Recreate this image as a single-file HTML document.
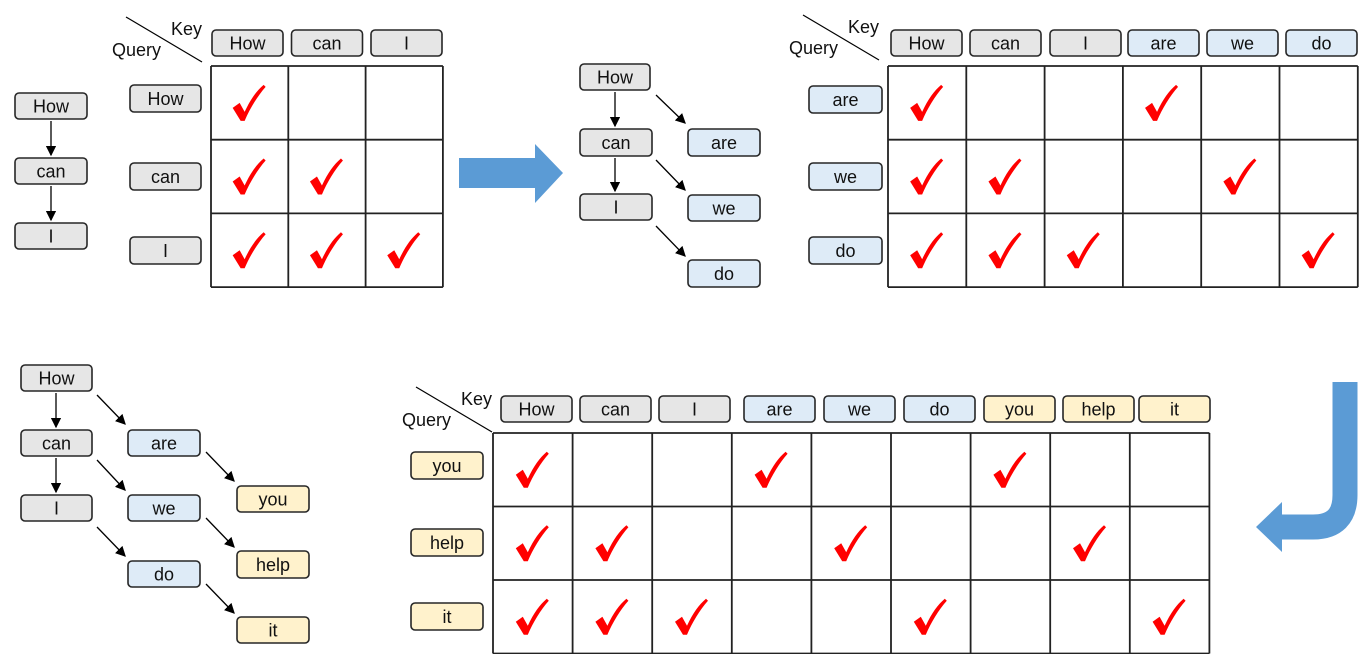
<!DOCTYPE html>
<html><head><meta charset="utf-8"><style>
body{margin:0;background:#fff;width:1365px;height:654px;overflow:hidden}
svg{display:block}
text{font-family:"Liberation Sans",sans-serif}
</style></head><body>
<svg id="s" width="1365" height="654" viewBox="0 0 1365 654">
<defs><marker id="ah" markerWidth="8" markerHeight="8" refX="7" refY="4" orient="auto"><path d="M0,0 L8,4 L0,8 z" fill="#000"/></marker></defs>
<g id="g"></g>
<path d="M459,158 H535 V144 L563,173 L535,203 V188 H459 Z" fill="#5b9bd5"/>
<path d="M1345,382 V495 Q1345,527 1313,527 H1280" fill="none" stroke="#5b9bd5" stroke-width="25"/>
<path d="M1282,502 L1256,527 L1282,552 Z" fill="#5b9bd5"/>
</svg>
<script>
const G=document.getElementById('g');
const NS='http://www.w3.org/2000/svg';
const FILL={g:'#e6e6e6',b:'#deebf7',y:'#fff2cc'};
function el(t,a){const e=document.createElementNS(NS,t);for(const k in a)e.setAttribute(k,a[k]);G.appendChild(e);return e;}
function box(x,y,w,h,txt,c){
  const r=el('rect',{x:x,y:y,width:w,height:h,rx:4,fill:FILL[c],stroke:'#262626','stroke-width':1.6});
  
  
  const t=el('text',{x:x+w/2,y:y+h/2+6.5,'text-anchor':'middle','font-size':18,fill:'#111'});
  t.textContent=txt;
  
  
}
function arrow(x1,y1,x2,y2){
  const l=el('line',{x1:x1,y1:y1,x2:x2,y2:y2,stroke:'#000','stroke-width':1.3,'marker-end':'url(#ah)'});
  
  
}
function check(cx,cy){
  const p=el('path',{d:'M-15,5 L-8,0 L-3,9 C3,-4 9,-12 16,-18 L18,-16 C10,-7 2,6 -3,18 L-7,18 Z',fill:'#ff0000',transform:`translate(${cx},${cy})`});
  
  
}
function header(dx,dy){
  const l=el('line',{x1:dx,y1:dy,x2:dx+76,y2:dy+45,stroke:'#000','stroke-width':1.2});
  
  
  const k=el('text',{x:dx+45,y:dy+18,'font-size':18,fill:'#111'});k.textContent='Key';
  
  
  const q=el('text',{x:dx-14,y:dy+39,'font-size':18,fill:'#111'});q.textContent='Query';
  
  
}
function grid(x0,y0,cw,rh,nc,nr,mask){
  for(let i=0;i<=nc;i++){const l=el('line',{x1:x0+i*cw,y1:y0,x2:x0+i*cw,y2:y0+nr*rh,stroke:'#222','stroke-width':1.8});
    }
  for(let j=0;j<=nr;j++){const l=el('line',{x1:x0,y1:y0+j*rh,x2:x0+nc*cw,y2:y0+j*rh,stroke:'#222','stroke-width':1.8});
    }
  mask.forEach((row,j)=>row.forEach((v,i)=>{if(v)check(x0+i*cw+cw/2-2,y0+j*rh+rh/2);}));
}
const keys1=['How','can','I'];
const mask1=[[1,0,0],[1,1,0],[1,1,1]];
const keys2=['How','can','I','are','we','do'];
const cols2=['g','g','g','b','b','b'];
const queries2=['are','we','do'];
const mask2=[[1,0,0,1,0,0],[1,1,0,0,1,0],[1,1,1,0,0,1]];
const keys3=['How','can','I','are','we','do','you','help','it'];
const cols3=['g','g','g','b','b','b','y','y','y'];
const queries3=['you','help','it'];
const mask3=[[1,0,0,1,0,0,1,0,0],[1,1,0,0,1,0,0,1,0],[1,1,1,0,0,1,0,0,1]];

[93,158,223].forEach((y,i)=>box(15,y,72,26,keys1[i],'g'));
arrow(51,121,51,155);arrow(51,186,51,220);
header(126,17);
keys1.forEach((k,i)=>box(212+i*79.5,30,71,26,k,'g'));
[85,163,237].forEach((y,i)=>box(130,y,71,27,keys1[i],'g'));
grid(211,66,77.3,73.7,3,3,mask1);

box(580,64,70,26,'How','g');box(580,129,72,27,'can','g');box(580,194,72,26,'I','g');
box(688,129,72,27,'are','b');box(688,195,72,26,'we','b');box(688,260,72,27,'do','b');
arrow(615,92,615,126);arrow(615,158,615,191);
arrow(656,95,685,123);arrow(656,160,685,190);arrow(656,226,685,256);

header(803,15);
const kx2=[891,970,1050,1128,1207,1286];
keys2.forEach((k,i)=>box(kx2[i],30,71,26,k,cols2[i]));
[86,163,237].forEach((y,i)=>box(809,y,73,27,queries2[i],'b'));
grid(888,66,78.3,73.7,6,3,mask2);

box(21,365,71,26,'How','g');box(21,430,71,26,'can','g');box(21,495,71,26,'I','g');
box(128,430,72,26,'are','b');box(128,495,72,26,'we','b');box(128,561,72,26,'do','b');
box(237,486,72,26,'you','y');box(237,551,72,27,'help','y');box(237,617,72,26,'it','y');
arrow(56,393,56,427);arrow(56,458,56,492);
arrow(97,395,125,424);arrow(97,460,125,490);arrow(97,527,125,556);
arrow(206,452,234,481);arrow(206,518,234,547);arrow(206,584,234,613);

header(416,387);
const kx3=[501,580,659,744,824,904,984,1063,1139];
keys3.forEach((k,i)=>box(kx3[i],396,71,26,k,cols3[i]));
[452,529,603].forEach((y,i)=>box(411,y,72,27,queries3[i],'y'));
grid(493,433,79.6,73.5,9,3,mask3);
</script>
</body></html>
